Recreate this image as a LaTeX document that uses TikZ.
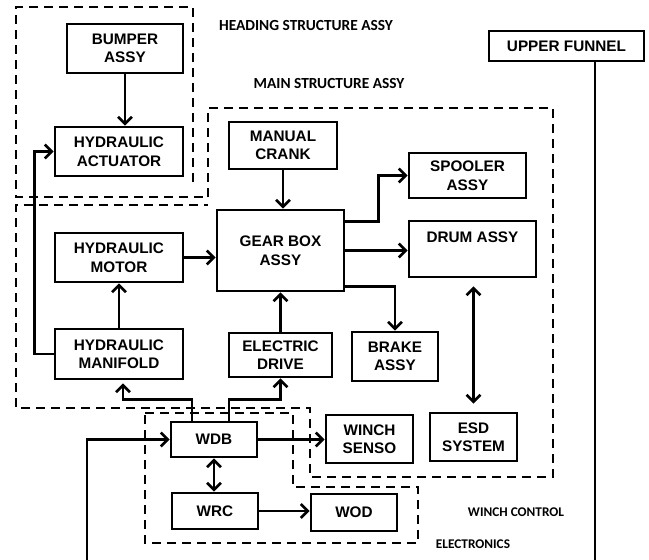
\documentclass[tikz,border=0pt]{standalone}
\usepackage{fontspec}
\setmainfont{Liberation Sans}
\newfontfamily\capfont{Carlito}
\usetikzlibrary{arrows.meta,calc}
\tikzset{
    base/.style={font=\fontsize{15.3}{18.5}\selectfont\bfseries, align=center},
    block/.style={base, rectangle, draw, line width=2.7pt, inner sep=0pt},
    zone/.style={draw, line width=2.4pt, dash pattern=on 9pt off 6pt},
    flow/.style={-{Straight Barb[length=7pt,width=14pt]}, line width=2.6pt},
    dflow/.style={{Straight Barb[length=7pt,width=14pt]}-{Straight Barb[length=7pt,width=14pt]}, line width=2.6pt},
    wire/.style={line width=2.6pt},
    caption/.style={font=\capfont\bfseries\fontsize{15.4}{18}\selectfont, inner sep=0pt},
    smallcap/.style={font=\capfont\bfseries\fontsize{13.3}{16}\selectfont, inner sep=0pt}
}
\begin{document}
\begin{tikzpicture}[x=1pt, y=-1pt]
  \useasboundingbox (0,0) rectangle (649,560);

  % dashed assemblies
  \draw[zone] (193,182) -- (193,7) -- (16,7) -- (16,197) -- (208,197);
  \draw[zone] (208,197) -- (208,108) -- (553,108) -- (553,477) -- (310,477)
              -- (310,408) -- (16,408) -- (16,205) -- (208,205);
  \draw[zone] (145,413) -- (293,413) -- (293,487) -- (418,487) -- (418,543)
              -- (145,543) -- cycle;

  \node[caption] (headcap) at (306,26) {HEADING STRUCTURE ASSY};
  \node[caption] (maincap) at (329,84) {MAIN STRUCTURE ASSY};
  \node[smallcap] (wcecap) at (516,512) {WINCH CONTROL};
  \node[smallcap] (eleccap) at (473,544) {ELECTRONICS};

  % blocks
  \node[block, minimum width=116pt, minimum height=49pt] (bumper) at (125,48.5) {BUMPER\\ASSY};
  \node[block, minimum width=128pt, minimum height=49pt] (actuator) at (119,151.5) {HYDRAULIC\\ACTUATOR};
  \node[block, minimum width=128pt, minimum height=49pt] (motor) at (119,257.5) {HYDRAULIC\\MOTOR};
  \node[block, minimum width=128pt, minimum height=50pt] (manifold) at (119,354) {HYDRAULIC\\MANIFOLD};
  \node[block, minimum width=108pt, minimum height=47pt] (crank) at (283,145.5) {MANUAL\\CRANK};
  \node[block, minimum width=127pt, minimum height=81pt] (gearbox) at (280.5,250.5) {GEAR BOX\\ASSY};
  \node[block, minimum width=117pt, minimum height=45pt] (spooler) at (467.5,175.5) {SPOOLER\\ASSY};
  \node[block, minimum width=127pt, minimum height=56pt] (drum) at (472.5,249) {DRUM ASSY\\[6pt]~};
  \node[block, minimum width=86pt, minimum height=49pt] (brake) at (395,356.5) {BRAKE\\ASSY};
  \node[block, minimum width=103pt, minimum height=44pt] (edrive) at (280.5,355) {ELECTRIC\\DRIVE};
  \node[block, minimum width=86pt, minimum height=35pt] (wdb) at (214,439.5) {WDB};
  \node[block, minimum width=86pt, minimum height=36pt] (wrc) at (215,511) {WRC};
  \node[block, minimum width=86pt, minimum height=37pt] (wod) at (354,512.5) {WOD};
  \node[block, minimum width=87pt, minimum height=48pt] (senso) at (369.5,439) {WINCH\\SENSO};
  \node[block, minimum width=87pt, minimum height=48pt] (esd) at (473.5,437) {ESD\\SYSTEM};
  \node[block, minimum width=155pt, minimum height=30pt] (funnel) at (566.5,46) {UPPER FUNNEL};

  \coordinate (feed) at (87,560);
  \coordinate (funnelend) at (595,560);

  % connections
  \draw[flow] (bumper.south) -- (bumper.south |- actuator.north);
  \draw[flow] (manifold.west) -- ++(-19,0) |- (actuator.west);
  \draw[flow] (manifold.north) -- (motor.south);
  \draw[flow] (motor.east) -- (motor.east -| gearbox.west);
  \draw[flow] (crank.south) -- (crank.south |- gearbox.north);
  \draw[flow] (edrive.north) -- (edrive.north |- gearbox.south);
  \draw[flow] ([yshift=29pt]gearbox.east) -- ++(33,0) |- (spooler.west);
  \draw[flow] (gearbox.east) -- (gearbox.east -| drum.west);
  \draw[flow] ([yshift=-36pt]gearbox.east) -| (brake.north);
  \draw[dflow, shorten <=8pt, shorten >=8pt] (esd.north) -- (esd.north |- drum.south);
  \draw[flow, shorten >=3pt] ([xshift=-22pt]wdb.north) -- ++(0,-21) -| ([xshift=4pt]manifold.south);
  \draw[flow] ([xshift=15pt]wdb.north) -- ++(0,-21) -| (edrive.south);
  \draw[flow] (wdb.east) -- (wdb.east -| senso.west);
  \draw[dflow] (wdb.south) -- (wdb.south |- wrc.north);
  \draw[flow] (wrc.east) -- (wrc.east -| wod.west);
  \draw[flow] (feed) |- (wdb.west);
  \draw[wire] (funnelend |- funnel.south) -- (funnelend);
\end{tikzpicture}
\end{document}
